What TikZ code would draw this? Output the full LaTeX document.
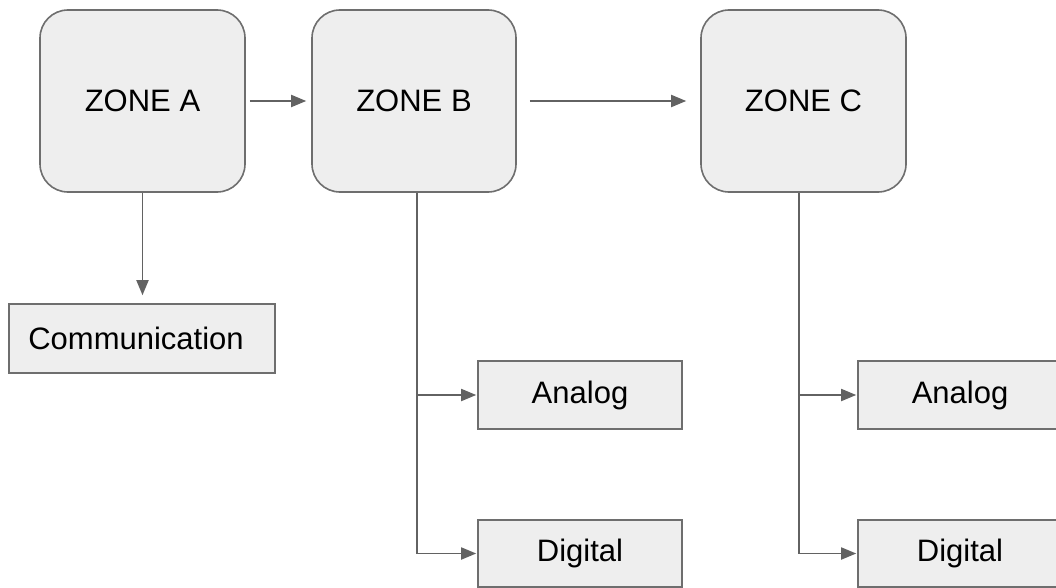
\documentclass[tikz,border=0pt]{standalone}
\usepackage{fontspec}
\setmainfont{Liberation Sans}
\usetikzlibrary{arrows.meta}
\definecolor{boxfill}{HTML}{EEEEEE}
\definecolor{boxline}{HTML}{6E6E6E}
\definecolor{arrowline}{HTML}{626262}
\begin{document}
\begin{tikzpicture}[x=1pt,y=-1pt,
  zone/.style={draw=boxline, fill=boxfill, line width=1.6pt, rounded corners=28pt,
    minimum height=182pt, inner sep=0pt, text depth=-2pt, font=\fontsize{31}{36}\selectfont},
  leaf/.style={draw=boxline, fill=boxfill, line width=1.6pt,
    minimum width=204pt, inner sep=0pt, font=\fontsize{31}{36}\selectfont},
  conn/.style={draw=arrowline, line width=1.8pt, -{Triangle[length=15pt,width=12pt]}}]
\clip (0,0) rectangle (1056,588);
\useasboundingbox (0,0) rectangle (1056,588);
\fill[white] (0,0) rectangle (1056,588);
% zones
\node[zone, minimum width=205pt] (A) at (142.5,101) {ZONE A};
\node[zone, minimum width=204pt] (B) at (414,101) {ZONE B};
\node[zone, minimum width=205pt] (C) at (803.5,101) {ZONE C};
% leaves
\node[leaf, minimum width=266pt, minimum height=69pt] (Comm) at (142,338.5) {\hspace*{-12pt}Communication};
\node[leaf, minimum height=68pt] (AB) at (580,395) {Analog};
\node[leaf, minimum height=67pt] (DB) at (580,553.5) {Digital};
\node[leaf, minimum height=68pt] (AC) at (960,395) {Analog};
\node[leaf, minimum height=67pt] (DC) at (960,553.5) {Digital};
% connectors
\draw[conn, shorten <=4pt, shorten >=5pt] (A) -- (B);
\draw[conn, shorten <=13pt, shorten >=14pt] (B) -- (C);
\draw[conn, shorten >=8pt] (A.south) -- (A.south |- Comm.north);
\coordinate (bj) at (417,0);
\coordinate (cj) at (799,0);
\draw[conn, shorten >=1pt] (B.south -| bj) |- (DB.west);
\draw[conn, shorten >=1pt] (bj |- AB.west) -- (AB.west);
\draw[conn, shorten >=1pt] (C.south -| cj) |- (DC.west);
\draw[conn, shorten >=1pt] (cj |- AC.west) -- (AC.west);
\end{tikzpicture}
\end{document}
